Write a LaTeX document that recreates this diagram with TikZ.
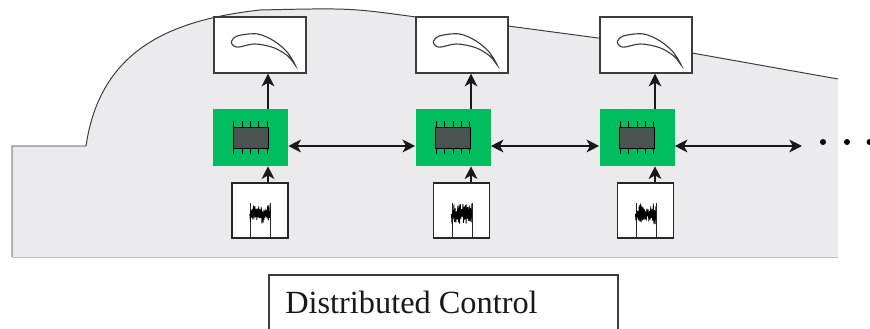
\documentclass[tikz,border=0pt]{standalone}
\usepackage{fontspec}
\setmainfont{Liberation Serif}
\usepackage{xcolor}
\definecolor{ctlgreen}{RGB}{0,190,95}
\definecolor{chipgray}{RGB}{74,82,82}
\definecolor{plantgray}{RGB}{235,235,238}
\definecolor{edgegray}{RGB}{60,60,60}
\usetikzlibrary{arrows.meta, positioning}

\tikzset{
  bladebox/.style={draw=edgegray, fill=white, line width=0.9pt, minimum width=2.3cm, minimum height=1.4cm, inner sep=0pt},
  ctlbox/.style={fill=ctlgreen, minimum width=1.875cm, minimum height=1.425cm, inner sep=0pt},
  sensbox/.style={draw=black!85, fill=white, line width=0.9pt, minimum width=1.4cm, minimum height=1.375cm, inner sep=0pt},
  link/.style={line width=1.5pt, black!90},
}

\begin{document}
\begin{tikzpicture}[>={Stealth[length=9pt,width=9pt,inset=2.5pt]}]
  \useasboundingbox (0,0) rectangle (21.75,8.225);

  % Plant outline (shaded region behind the loops)
  \fill[plantgray] (0.3,1.8) -- (0.3,4.575) -- (2.15,4.575)
    .. controls (2.5,6.975) and (4.25,7.725) .. (6.5,7.975)
    .. controls (8.75,8.025) .. (10.4,7.8)
    -- (12.7,7.575) -- (14.95,7.275) -- (17.3,6.9) -- (20.95,6.25)
    -- (20.95,1.8) -- cycle;
  \draw[edgegray, line width=0.7pt] (0.3,1.8) -- (0.3,4.575) -- (2.15,4.575)
    .. controls (2.5,6.975) and (4.25,7.725) .. (6.5,7.975)
    .. controls (8.75,8.025) .. (10.4,7.8)
    -- (12.7,7.575) -- (14.95,7.275) -- (17.3,6.9) -- (20.95,6.25);
  \draw[black!25, line width=0.6pt] (0.3,1.8) -- (20.95,1.8);

  % Loop 1
  \node[bladebox] (blade1) at (6.5,7.1) {};
  \node[ctlbox]   (ctl1)   at (6.2625,4.7875) {};
  \node[sensbox]  (sens1)  at (6.5,2.9625) {};
  \coordinate (a1) at (6.7,4.575);

  % Loop 2
  \node[bladebox] (blade2) at (11.55,7.1) {};
  \node[ctlbox]   (ctl2)   at (11.325,4.7875) {};
  \node[sensbox]  (sens2)  at (11.54,2.9625) {};
  \coordinate (a2) at (11.775,4.575);

  % Loop 3
  \node[bladebox] (blade3) at (16.15,7.1) {};
  \node[ctlbox]   (ctl3)   at (15.925,4.7875) {};
  \node[sensbox]  (sens3)  at (16.14,2.9625) {};
  \coordinate (a3) at (16.375,4.575);

  % Icons: blade section, controller chip, sensor trace
  \pgfmathsetseed{11}
  \foreach \i in {1,2,3} {
    \begin{scope}[shift={(blade\i.north west)}]
      \draw[edgegray, line width=0.8pt] plot[smooth cycle, tension=0.55] coordinates {
        (0.45,-0.65) (0.6,-0.49) (1.1,-0.44) (1.525,-0.62) (1.85,-0.9) (2.05,-1.225)
        (1.86,-0.99) (1.5,-0.78) (1.025,-0.69) (0.6,-0.77)};
    \end{scope}
    \begin{scope}[shift={(ctl\i.center)}]
      \foreach \p in {-0.42,-0.21,0,0.21,0.42} {
        \draw[black, line width=0.6pt] (\p,0.41) -- (\p,-0.41);
      }
      \draw[fill=chipgray, draw=black, line width=0.5pt] (-0.44,-0.26) rectangle (0.44,0.26);
    \end{scope}
    \begin{scope}[shift={(sens\i.south west)}]
      \draw[black!85, line width=0.6pt] (0.475,0) -- (0.475,0.9);
      \draw[black!85, line width=0.6pt] (0.975,0) -- (0.975,0.9);
      \draw[black, line width=0.55pt] (0.46,0.62)
        \foreach \k in {1,...,32} { -- ({0.46+\k*0.016}, {mod(\k,2)==0 ? 0.68+0.22*rnd : 0.56-0.2*rnd}) };
    \end{scope}
  }

  % Sensor -> controller -> blade
  \draw[link, ->] (sens1.north -| a1) -- (ctl1.south -| a1);
  \draw[link, ->] (ctl1.north -| a1) -- (blade1.south -| a1);
  \draw[link, ->] (sens2.north -| a2) -- (ctl2.south -| a2);
  \draw[link, ->] (ctl2.north -| a2) -- (blade2.south -| a2);
  \draw[link, ->] (sens3.north -| a3) -- (ctl3.south -| a3);
  \draw[link, ->] (ctl3.north -| a3) -- (blade3.south -| a3);

  % Network between controllers
  \coordinate (bus) at (0,4.575);
  \coordinate (busend) at (20.05,4.575);
  \draw[link, <->] (ctl1.east |- bus) -- (ctl2.west |- bus);
  \draw[link, <->] (ctl2.east |- bus) -- (ctl3.west |- bus);
  \draw[link, <->] (ctl3.east |- bus) -- (busend);
  \fill (20.575,4.675) circle (0.075);
  \fill (21.175,4.675) circle (0.075);
  \fill (21.74,4.675) circle (0.075);

  % Caption box
  \draw[edgegray, line width=0.8pt, fill=white] (6.725,-0.3) rectangle (15.45,1.35);
  \node[anchor=base west, inner sep=0pt, text=black!90, font=\fontsize{23}{28}\selectfont] (caption) at (7.125,0.375) {Distributed Control};
\end{tikzpicture}
\end{document}
